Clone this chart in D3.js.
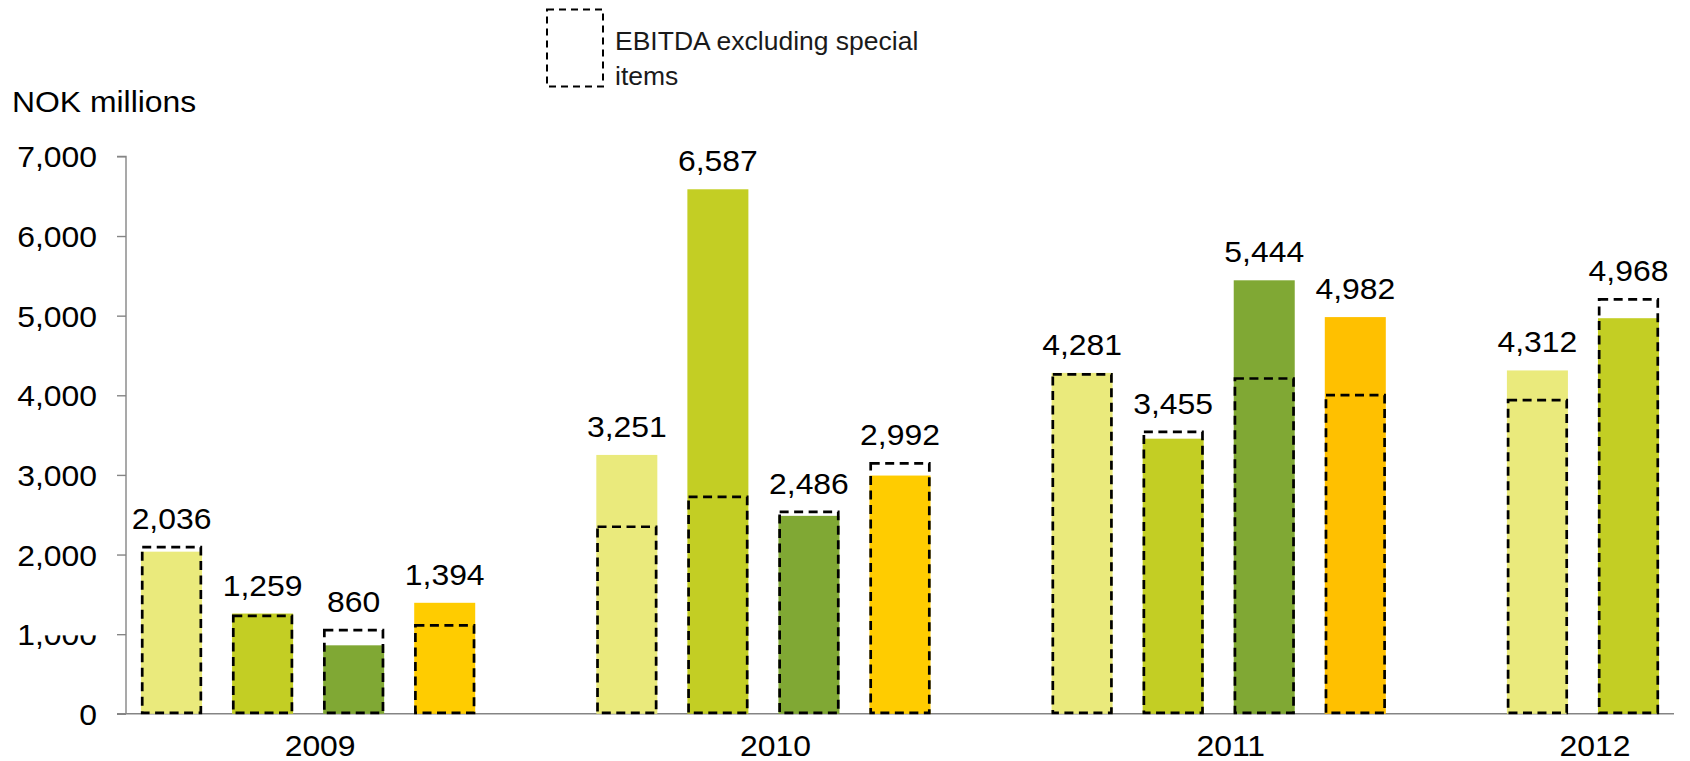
<!DOCTYPE html>
<html>
<head>
<meta charset="utf-8">
<script src="https://cdn.jsdelivr.net/npm/d3@7"></script>
<style>
  html, body { margin: 0; padding: 0; background: #ffffff; }
  svg { display: block; font-family: "Liberation Sans", Arial, sans-serif; }
</style>
</head>
<body>
<svg id="chart" width="1690" height="761"></svg>
<script>
// ---- data ----
const years = ["2009", "2010", "2011", "2012"];
const quarters = ["Q1", "Q2", "Q3", "Q4"];
const ebitda = [
  [2036, 1259, 860, 1394],
  [3251, 6587, 2486, 2992],
  [4281, 3455, 5444, 4982],
  [4312, 4968]
];
const ebitdaExSpecial = [
  [2093, 1231, 1051, 1110],
  [2349, 2725, 2537, 3145],
  [4262, 3541, 4211, 4002],
  [3939, 5204]
];
const yTicks = [0, 1000, 2000, 3000, 4000, 5000, 6000, 7000];
const yAxisTitle = "NOK millions";
const legendLines = ["EBITDA excluding special", "items"];

// ---- style ----
const quarterColors = { Q1: "#EAEA7C", Q2: "#C3CE24", Q3: "#80A834", Q4: "#FFCC00" };
const overrideColors = { "2011-Q4": "#FFC000" };
const fontSize = 29;
const stretch = 1.1;

// ---- layout ----
const svg = d3.select("#chart");
const plotLeft = 126, plotRight = 1674, plotTop = 156.4, plotBottom = 713.8;
const slotsPerYear = quarters.length + 1;
const nSlots = (years.length - 1) * slotsPerYear + ebitda[years.length - 1].length;

const rows = [];
years.forEach((yr, yi) => {
  ebitda[yi].forEach((v, qi) => {
    rows.push({ year: yr, q: quarters[qi], slot: yi * slotsPerYear + qi, value: v, ex: ebitdaExSpecial[yi][qi] });
  });
});

const x = d3.scaleBand()
  .domain(d3.range(nSlots))
  .range([plotLeft, plotRight])
  .paddingInner(0.33)
  .paddingOuter(0.165);

const y = d3.scaleLinear().domain([0, 7000]).range([plotBottom, plotTop]);

// y axis
const yAxis = d3.axisLeft(y).tickValues(yTicks).tickSize(9).tickFormat(d3.format(","));
const gy = svg.append("g").attr("transform", `translate(${plotLeft},0)`).call(yAxis);
gy.select(".domain").attr("stroke", "#858585").attr("stroke-width", 1.4)
  .attr("d", `M-9,${y(7000)}H0V${y(0)}`);
gy.selectAll(".tick line").attr("stroke", "#858585").attr("stroke-width", 1.4);
gy.selectAll(".tick text")
  .attr("x", null).attr("dy", null)
  .attr("fill", "#000")
  .attr("font-size", fontSize)
  .attr("font-family", "'Liberation Sans', Arial, sans-serif")
  .attr("text-anchor", "end")
  .attr("transform", `translate(-29,10.5) scale(${stretch},1)`);

// white patch that clips top of "000" in the 1,000 label (as in reference)
svg.append("rect")
  .attr("x", plotLeft - 83).attr("y", y(1000) - 17)
  .attr("width", 56).attr("height", 18.2)
  .attr("fill", "#fff");

// x axis line
svg.append("line")
  .attr("x1", plotLeft - 9).attr("x2", plotRight)
  .attr("y1", plotBottom).attr("y2", plotBottom)
  .attr("stroke", "#858585").attr("stroke-width", 1.4);

// bars
svg.append("g").selectAll("rect").data(rows).join("rect")
  .attr("x", d => x(d.slot))
  .attr("width", x.bandwidth())
  .attr("y", d => y(d.value))
  .attr("height", d => y(0) - y(d.value))
  .attr("fill", d => overrideColors[d.year + "-" + d.q] || quarterColors[d.q]);

// dashed boxes: EBITDA excluding special items
svg.append("g").selectAll("rect").data(rows).join("rect")
  .attr("x", d => x(d.slot) + 1.2)
  .attr("width", x.bandwidth() - 2.4)
  .attr("y", d => y(d.ex))
  .attr("height", d => y(0) - y(d.ex) - 1)
  .attr("fill", "none")
  .attr("stroke", "#000")
  .attr("stroke-width", 2.7)
  .attr("stroke-dasharray", "9,5.5");

// value labels
svg.append("g").selectAll("text").data(rows).join("text")
  .attr("transform", d => `translate(${x(d.slot) + x.bandwidth() / 2},${y(Math.max(d.value, d.ex)) - 18}) scale(${stretch},1)`)
  .attr("text-anchor", "middle")
  .attr("font-size", fontSize)
  .attr("fill", "#000")
  .text(d => d3.format(",")(d.value));

// year labels
svg.append("g").selectAll("text").data(years).join("text")
  .attr("transform", (yr, yi) => {
    const first = x(yi * slotsPerYear);
    const last = x(yi * slotsPerYear + ebitda[yi].length - 1) + x.bandwidth();
    return `translate(${(first + last) / 2 + 12},756) scale(${stretch},1)`;
  })
  .attr("text-anchor", "middle")
  .attr("font-size", fontSize)
  .attr("fill", "#000")
  .text(d => d);

// y axis title
svg.append("text")
  .attr("transform", `translate(12,112) scale(${stretch},1)`)
  .attr("font-size", fontSize)
  .attr("fill", "#000")
  .text(yAxisTitle);

// legend
svg.append("rect")
  .attr("x", 547).attr("y", 9.5).attr("width", 56).attr("height", 77)
  .attr("fill", "none").attr("stroke", "#000")
  .attr("stroke-width", 2).attr("stroke-dasharray", "7,5");
svg.append("g").selectAll("text").data(legendLines).join("text")
  .attr("transform", (d, i) => `translate(615,${50 + i * 35}) scale(1.06,1)`)
  .attr("font-size", 25)
  .attr("fill", "#1a1a1a")
  .text(d => d);
</script>
</body>
</html>
